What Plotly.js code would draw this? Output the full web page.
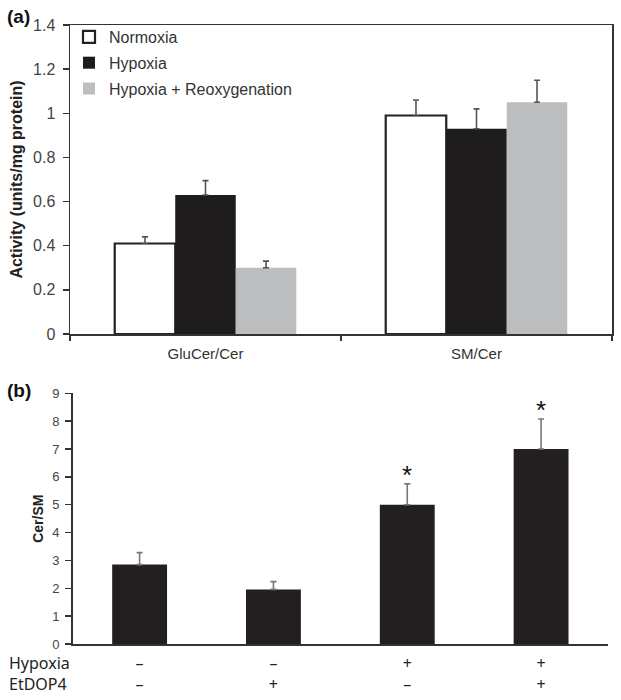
<!DOCTYPE html>
<html>
<head>
<meta charset="utf-8">
<script src="https://cdn.plot.ly/plotly-3.0.1.min.js"></script>
<style>html,body{margin:0;padding:0;background:#fff;}#chart{width:621px;height:700px;}</style>
</head>
<body>
<div id="chart"></div>
<script>
// ---- Panel (a) data ----
var groupsA = ['GluCer/Cer', 'SM/Cer'];
var normoxia = [0.41, 0.99];
var normoxiaErr = [0.03, 0.07];
var hypoxia = [0.63, 0.93];
var hypoxiaErr = [0.065, 0.09];
var reoxygen = [0.30, 1.05];
var reoxygenErr = [0.03, 0.10];
var yTicksA = [0, 0.2, 0.4, 0.6, 0.8, 1, 1.2, 1.4];

// ---- Panel (b) data ----
var condIndex = [0, 1, 2, 3];
var cerSM = [2.85, 1.96, 5.0, 7.0];
var cerSMErr = [0.43, 0.28, 0.75, 1.08];
var hypoxiaSign = ['\u2013', '\u2013', '+', '+'];
var etdop4Sign = ['\u2013', '+', '\u2013', '+'];
var significant = [false, false, true, true];
var yTicksB = [0, 1, 2, 3, 4, 5, 6, 7, 8, 9];

var FONT = 'Liberation Sans, Arial, sans-serif';
var AX = '#333333';

function errUp(arr, col) {
  return {type: 'data', array: arr, arrayminus: arr.map(function(){return 0;}),
          symmetric: false, color: col || '#555555', thickness: 1.6, width: 3};
}

var traces = [
  {type: 'bar', name: 'Normoxia', x: groupsA, y: normoxia, error_y: errUp(normoxiaErr),
   marker: {color: '#ffffff', line: {color: '#222222', width: 2.2}}, xaxis: 'x', yaxis: 'y',
   legendgroup: 'g1'},
  {type: 'bar', name: 'Hypoxia', x: groupsA, y: hypoxia, error_y: errUp(hypoxiaErr),
   marker: {color: '#1e1c1d', line: {width: 0}}, xaxis: 'x', yaxis: 'y', legendgroup: 'g2'},
  {type: 'bar', name: 'Hypoxia + Reoxygenation', x: groupsA, y: reoxygen, error_y: errUp(reoxygenErr),
   marker: {color: '#bcbdbf', line: {width: 0}}, xaxis: 'x', yaxis: 'y', legendgroup: 'g3'},
  {type: 'bar', name: 'Cer/SM', x: condIndex, y: cerSM, error_y: errUp(cerSMErr, '#777777'), width: 0.41,
   marker: {color: '#231f20', line: {width: 0}}, xaxis: 'x2', yaxis: 'y2', showlegend: false}
];

var ticktextB = condIndex.map(function(i){ return hypoxiaSign[i] + '<br>' + etdop4Sign[i]; });

var annotations = [
  {text: '<b>(a)</b>', xref: 'paper', yref: 'paper', x: 5/621, y: 1 - 17/700, xanchor: 'left', yanchor: 'middle',
   showarrow: false, font: {family: FONT, size: 19, color: '#111'}},
  {text: '<b>(b)</b>', xref: 'paper', yref: 'paper', x: 5/621, y: 1 - 390/700, xanchor: 'left', yanchor: 'middle',
   showarrow: false, font: {family: FONT, size: 19, color: '#111'}},
  {text: 'Hypoxia', xref: 'paper', yref: 'paper', x: 7/621, y: 1 - 663/700, xanchor: 'left', yanchor: 'middle',
   showarrow: false, font: {family: 'Noto Sans, sans-serif', size: 16, color: '#222'}},
  {text: 'EtDOP4', xref: 'paper', yref: 'paper', x: 7/621, y: 1 - 684/700, xanchor: 'left', yanchor: 'middle',
   showarrow: false, font: {family: 'Noto Sans, sans-serif', size: 16, color: '#222'}}
];
condIndex.forEach(function(i){
  if (significant[i]) {
    annotations.push({text: '*', xref: 'x2', yref: 'y2', x: i, y: cerSM[i] + cerSMErr[i],
      xanchor: 'center', yanchor: 'bottom', yshift: -8, showarrow: false,
      font: {family: FONT, size: 26, color: '#111'}});
  }
});

var layout = {
  width: 621, height: 700,
  margin: {l: 0, r: 0, t: 0, b: 0},
  paper_bgcolor: '#fff', plot_bgcolor: '#fff',
  font: {family: FONT, color: '#444'},
  barmode: 'group', bargap: 0.33, bargroupgap: 0,
  showlegend: true,
  legend: {x: 69/621, y: 1 - 20/700, xanchor: 'left', yanchor: 'top', bgcolor: 'rgba(0,0,0,0)',
           font: {family: FONT, size: 16, color: '#333'}, traceorder: 'grouped', tracegroupgap: 2},
  xaxis: {domain: [70/621, 612/621], anchor: 'y', type: 'category', showline: true, linecolor: AX, linewidth: 1.5,
          mirror: true, ticks: 'outside', tickson: 'boundaries', ticklen: 5, tickcolor: AX, tickwidth: 1.5,
          showgrid: false, zeroline: false, ticklabelstandoff: 5,
          tickfont: {family: FONT, size: 15, color: '#333'}, fixedrange: true},
  yaxis: {domain: [1 - 334/700, 1 - 25/700], anchor: 'x', range: [0, 1.4], tickvals: yTicksA,
          showline: true, linecolor: AX, linewidth: 1.5, mirror: true, ticks: 'outside', ticklen: 6,
          tickcolor: AX, tickwidth: 1.5, showgrid: false, zeroline: false, ticklabelstandoff: 4,
          tickfont: {family: FONT, size: 16, color: '#444'},
          title: {text: '<b>Activity (units/mg protein)</b>', font: {family: FONT, size: 16, color: '#222'}, standoff: 6}},
  xaxis2: {domain: [72.7/621, 608/621], anchor: 'y2', range: [-0.5, 3.5], tickvals: condIndex, ticktext: ticktextB,
           showline: true, linecolor: AX, linewidth: 1.5, ticks: '', showgrid: false, zeroline: false,
           ticklabelstandoff: 4, tickfont: {family: 'Noto Sans, sans-serif', size: 16, color: '#222'}},
  yaxis2: {domain: [1 - 644/700, 1 - 393.3/700], anchor: 'x2', range: [0, 9], tickvals: yTicksB,
           showline: true, linecolor: AX, linewidth: 1.5, ticks: 'outside', ticklen: 6, tickcolor: AX, tickwidth: 1.5,
           showgrid: false, zeroline: false, ticklabelstandoff: 3,
           tickfont: {family: FONT, size: 13, color: '#444'},
           title: {text: '<b>Cer/SM</b>', font: {family: FONT, size: 14, color: '#222'}, standoff: 5}},
  annotations: annotations
};

Plotly.newPlot('chart', traces, layout, {displayModeBar: false, staticPlot: true});
</script>
</body>
</html>
